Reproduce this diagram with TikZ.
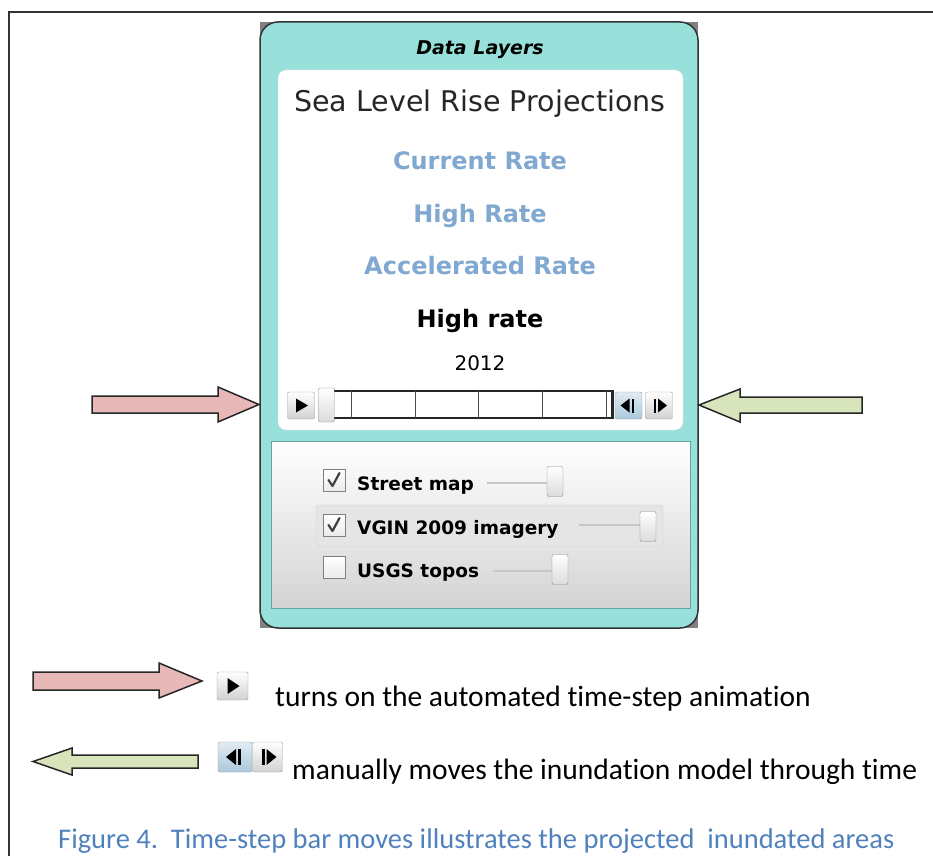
\documentclass[tikz,border=0pt]{standalone}
\usepackage{fontspec}
\setmainfont{Carlito}[Ligatures={NoCommon}]
\newfontfamily\uifont{DejaVu Sans}
\usepackage{tikz}
\usetikzlibrary{calc, positioning}
\definecolor{panelteal}{RGB}{151,225,218}
\definecolor{lowerline}{RGB}{98,164,162}
\definecolor{rateblue}{RGB}{128,168,208}
\definecolor{capblue}{RGB}{79,129,189}
\definecolor{pinkfill}{RGB}{230,185,184}
\definecolor{greenfill}{RGB}{216,228,188}
\definecolor{stepblue}{RGB}{170,200,220}
\tikzstyle{panelbox}=[draw=black!80, line width=1.5pt, fill=panelteal, rounded corners=18pt, inner sep=0pt]
\tikzstyle{innerbox}=[draw=black!12, fill=white, rounded corners=8pt, inner sep=0pt]
\tikzstyle{lowerbox}=[draw=lowerline, line width=1pt, top color=white, bottom color=black!17, inner sep=0pt]
\tikzstyle{btn}=[draw=black!40, rounded corners=2pt, top color=white, bottom color=black!18, inner sep=0pt, minimum width=27pt, minimum height=27pt]
\tikzstyle{stepbtn}=[btn, top color=stepblue!35, bottom color=stepblue]
\tikzstyle{thumb}=[draw=black!45, rounded corners=2pt, top color=white, bottom color=black!14, inner sep=0pt, minimum width=16pt, minimum height=30pt]
\tikzstyle{chk}=[draw=black!50, top color=white, bottom color=black!8, inner sep=0pt, minimum size=22pt]
\tikzstyle{tick}=[line width=2.2pt, black!75, line cap=round, line join=round]
\tikzstyle{groove}=[line width=2.5pt, black!22]
\tikzstyle{rate}=[inner sep=0pt, anchor=base, text=rateblue, font=\uifont\bfseries\fontsize{24}{26}\selectfont]
\tikzstyle{layer}=[inner sep=0pt, anchor=base west, font=\uifont\bfseries\fontsize{18.5}{20}\selectfont]
\tikzstyle{legend}=[inner sep=0pt, anchor=base west, font=\fontsize{29.5}{32}\selectfont]
\tikzstyle{blockarrow}=[draw=black!85, line width=1.5pt, line join=miter]

\begin{document}
\begin{tikzpicture}[x=1pt, y=-1pt]
\useasboundingbox (0,0) rectangle (933,856);
% the frame round everything
\draw[line width=2pt, black!80] (933,12) -- (9,12) -- (9,856);
% the ``Data Layers'' panel
\fill[black!50] (260,22) rectangle (698,628);
\node[panelbox, minimum width=438, minimum height=606] (panel) at (479,325) {};
\node[inner sep=0pt, anchor=base, font=\uifont\bfseries\itshape\fontsize{19}{20}\selectfont] (title) at (480,55) {Data Layers};
\node[innerbox, minimum width=405, minimum height=360] (inner) at (480.5,250) {};
\node[inner sep=0pt, anchor=base, text=black!85, font=\uifont\fontsize{28.5}{30}\selectfont] (slr) at (480,111) {Sea Level Rise Projections};
\node[rate] (current) at (480,169) {Current Rate};
\node[rate] (high) at (480,222) {High Rate};
\node[rate] (accel) at (480,274) {Accelerated Rate};
\node[rate, text=black] (chosen) at (480,327) {High rate};
\node[inner sep=0pt, anchor=base, font=\uifont\fontsize{20}{22}\selectfont] (year) at (480,370) {2012};
% the time-step bar
\node[btn] (play) at (301,405.5) {};
\fill (play.center) ++(-5,-7) -- ++(12,7) -- ++(-12,7) -- cycle;
\draw[line width=2pt, black!85] (334,391) -- (612,391) (334,418) -- (612,418);
\draw[line width=3pt, black!85] (612,390) -- (612,419);
\foreach \t in {351,415,478,542,606}
  \draw[black!70] (\t,391) -- (\t,418);
\node[thumb, minimum height=34pt] (knob) at (326.5,405) {};
\node[stepbtn] (back) at (628.5,405.5) {};
\fill (back.center) ++(1,-7) -- ++(-9,7) -- ++(9,7) -- cycle;
\fill (back.center) ++(3,-7) rectangle ++(2.5,14);
\node[btn] (fwd) at (659,405.5) {};
\fill (fwd.center) ++(-5.5,-7) rectangle ++(2.5,14);
\fill (fwd.center) ++(-1,-7) -- ++(9,7) -- ++(-9,7) -- cycle;
% the base layers
\node[lowerbox, minimum width=419, minimum height=167] (lower) at (480.5,524.5) {};
\node[draw=black!20, fill=black!10, rounded corners=3pt, minimum width=347, minimum height=41, inner sep=0pt] (hilite) at (489.5,525.5) {};
\node[chk] (chk1) at (334.5,480) {};
\draw[tick] (chk1.center) ++(-6,0) -- ++(4,6) -- ++(7,-13);
\node[layer] (street) at (357,490) {Street map};
\draw[groove] (487,483) -- (547,483);
\node[thumb] (k1) at (555,481.5) {};
\node[chk] (chk2) at (334.5,525) {};
\draw[tick] (chk2.center) ++(-6,0) -- ++(4,6) -- ++(7,-13);
\node[layer] (vgin) at (357,534) {VGIN 2009 imagery};
\draw[groove] (579,525) -- (640,525);
\node[thumb] (k2) at (648,526.5) {};
\node[chk] (chk3) at (334.5,567.5) {};
\node[layer] (usgs) at (357,577) {USGS topos};
\draw[groove] (493,571) -- (552,571);
\node[thumb] (k3) at (560,569.5) {};
% the arrows pointing at the bar
\draw[blockarrow, fill=pinkfill] (92,396) -- (218,396) -- (218,387) -- (259,404.5) -- (218,422) -- (218,413) -- (92,413) -- cycle;
\draw[blockarrow, fill=greenfill] (862,397) -- (740,397) -- (740,389) -- (699,405) -- (740,422) -- (740,413) -- (862,413) -- cycle;
% the legend
\draw[blockarrow, fill=pinkfill] (33,672) -- (159,672) -- (159,663) -- (202,681) -- (159,698) -- (159,690) -- (33,690) -- cycle;
\node[btn, minimum width=31pt, minimum height=28pt] (lplay) at (232.5,686) {};
\fill (lplay.center) ++(-5,-8) -- ++(12,8) -- ++(-12,8) -- cycle;
\node[legend] (ltext1) at (275,706) {turns on the automated time-step animation};
\draw[blockarrow, fill=greenfill] (198,755) -- (72,755) -- (72,748) -- (33,761.5) -- (72,775) -- (72,768) -- (198,768) -- cycle;
\node[stepbtn, minimum width=34pt, minimum height=30pt] (lback) at (235,757) {};
\fill (lback.center) ++(1,-8) -- ++(-10,8) -- ++(10,8) -- cycle;
\fill (lback.center) ++(3,-8) rectangle ++(3,16);
\node[btn, minimum width=30pt, minimum height=30pt] (lfwd) at (267.5,757) {};
\fill (lfwd.center) ++(-6,-8) rectangle ++(3,16);
\fill (lfwd.center) ++(-1,-8) -- ++(10,8) -- ++(-10,8) -- cycle;
\node[legend] (ltext2) at (292,779) {manually moves the inundation model through time};
% the caption
\node[legend, text=capblue, font=\fontsize{28.5}{32}\selectfont] (caption) at (58,848) {Figure 4.\ \ Time-step bar moves illustrates the projected\ \ inundated areas};
\end{tikzpicture}
\end{document}
